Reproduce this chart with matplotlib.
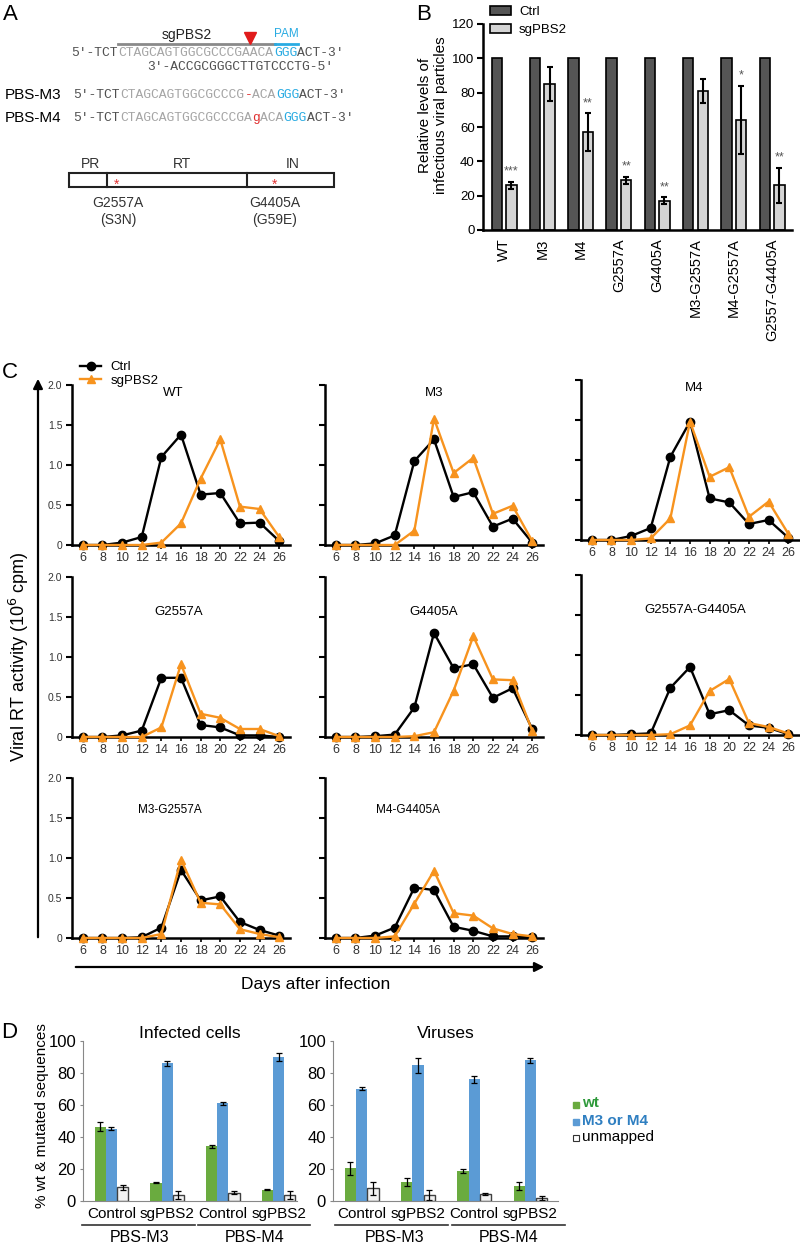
import numpy as np
import matplotlib
matplotlib.use('Agg')
import matplotlib.pyplot as plt
from matplotlib.patches import Rectangle

plt.rcParams['font.family'] = ['Liberation Sans', 'DejaVu Sans']

W, H = 800, 1248

# panel B
b_strains = ['WT', 'M3', 'M4', 'G2557A', 'G4405A', 'M3-G2557A', 'M4-G2557A', 'G2557-G4405A']
b_ctrl = [100, 100, 100, 100, 100, 100, 100, 100]
b_sg = [26, 85, 57, 29, 17, 81, 64, 26]
b_sg_err = [2, 10, 11, 2, 2, 7, 20, 10]
b_stars = ['***', '', '**', '**', '**', '', '*', '**']

# panel C
days = [6, 8, 10, 12, 14, 16, 18, 20, 22, 24, 26]
wt_ctrl = [0, 0, 0.03, 0.1, 1.1, 1.38, 0.63, 0.65, 0.27, 0.28, 0.05]
wt_sg = [0, 0, 0, 0, 0.03, 0.27, 0.83, 1.32, 0.48, 0.45, 0.1]
m3_ctrl = [0, 0, 0.02, 0.12, 1.05, 1.32, 0.6, 0.66, 0.23, 0.33, 0.03]
m3_sg = [0, 0, 0, 0, 0.18, 1.58, 0.9, 1.09, 0.39, 0.49, 0.05]
m4_ctrl = [0, 0, 0.05, 0.15, 1.04, 1.48, 0.52, 0.47, 0.2, 0.25, 0.03]
m4_sg = [0, 0, 0, 0.02, 0.27, 1.48, 0.79, 0.91, 0.29, 0.48, 0.08]
g2557_ctrl = [0, 0, 0.02, 0.08, 0.74, 0.74, 0.15, 0.12, 0.02, 0.02, 0]
g2557_sg = [0, 0, 0, 0, 0.12, 0.91, 0.29, 0.24, 0.1, 0.1, 0.01]
g4405_ctrl = [0, 0, 0.01, 0.03, 0.37, 1.3, 0.86, 0.91, 0.49, 0.61, 0.1]
g4405_sg = [0, 0, 0, 0, 0.01, 0.06, 0.58, 1.26, 0.72, 0.71, 0.08]
dbl_ctrl = [0, 0, 0.01, 0.02, 0.59, 0.85, 0.26, 0.31, 0.12, 0.09, 0.01]
dbl_sg = [0, 0, 0, 0, 0.01, 0.12, 0.55, 0.7, 0.15, 0.1, 0.02]
m3g_ctrl = [0, 0, 0, 0.01, 0.13, 0.85, 0.47, 0.52, 0.2, 0.1, 0.03]
m3g_sg = [0, 0, 0, 0, 0.05, 0.98, 0.44, 0.42, 0.11, 0.05, 0.01]
m4g_ctrl = [0, 0, 0.03, 0.13, 0.63, 0.6, 0.14, 0.09, 0.02, 0.02, 0.01]
m4g_sg = [0, 0, 0, 0.02, 0.43, 0.84, 0.31, 0.28, 0.12, 0.05, 0.02]

# panel D
d_groups = ['Control', 'sgPBS2', 'Control', 'sgPBS2']
cells_wt = [46.5, 11.5, 34.3, 6.9]
cells_wt_err = [2.7, 0.5, 1, 0.3]
cells_mut = [45.2, 86, 61, 89.8]
cells_mut_err = [1, 1.5, 1, 2.5]
cells_unm = [8.5, 3.7, 5.3, 3.7]
cells_unm_err = [1.5, 2.5, 1, 2.5]
vir_wt = [20.5, 12, 19, 9.6]
vir_wt_err = [4, 2.5, 1.3, 2.5]
vir_mut = [70.3, 84.7, 76, 88]
vir_mut_err = [0.7, 4.5, 2, 1.5]
vir_unm = [8, 3.8, 4.4, 1.9]
vir_unm_err = [4, 3, 0.5, 1.5]

ORANGE = '#f7931e'
GREEN = '#6aab3f'
BLUE = '#5b9bd5'

fig = plt.figure(figsize=(8, 12.48), dpi=100)


def box(x0, y0, x1, y1):
    return [x0 / W, 1 - y1 / H, (x1 - x0) / W, (y1 - y0) / H]


ov = fig.add_axes([0, 0, 1, 1])
ov.set_xlim(0, W)
ov.set_ylim(H, 0)
ov.axis('off')

for x, y, s in [(3, 15, 'A'), (416, 15, 'B'), (2, 373, 'C'), (1, 1033, 'D')]:
    ov.text(x, y, s, fontsize=16, va='center', ha='left')

# ---- panel A (schematic)
cw = 7.8
mono = ['Liberation Mono', 'DejaVu Sans Mono']
DK, LG, SB, RD = '#505050', '#a5a5a5', '#29abe2', '#e03030'


def seq(x0, y, parts):
    i = 0
    for s, c in parts:
        ov.text(x0 + i * cw, y, s, color=c, family=mono, fontsize=9.4, va='center')
        i += len(s)


ov.text(187, 35, 'sgPBS2', fontsize=10, ha='center', va='center', color='#222')
ov.plot([118, 275], [44, 44], color='#8a8a8a', lw=2)
ov.plot([275, 298], [44, 44], color=SB, lw=2)
ov.text(286, 34, 'PAM', fontsize=8.5, ha='center', va='center', color=SB)
ov.plot(250, 38, marker='v', color='#e01b1b', ms=8)
seq(71, 53, [("5′-TCT", DK), ("CTAGCAGTGGCGCCCGAACA", LG), ("GGG", SB), ("ACT-3′", DK)])
seq(147, 67, [("3′-ACCGCGGGCTTGTCCCTG-5′", DK)])
ov.text(5, 95, 'PBS-M3', fontsize=11, va='center')
ov.text(5, 118, 'PBS-M4', fontsize=11, va='center')
seq(73, 95, [("5′-TCT", DK), ("CTAGCAGTGGCGCCCG", LG), ("-", RD), ("ACA", LG), ("GGG", SB), ("ACT-3′", DK)])
seq(73, 118, [("5′-TCT", DK), ("CTAGCAGTGGCGCCCGA", LG), ("g", RD), ("ACA", LG), ("GGG", SB), ("ACT-3′", DK)])

ov.add_patch(Rectangle((69, 173), 265, 14, fill=False, lw=1.5, ec='#222'))
ov.plot([107, 107], [173, 187], color='#222', lw=1.5)
ov.plot([247, 247], [173, 187], color='#222', lw=1.5)
for x, s in [(91, 'PR'), (182, 'RT'), (293, 'IN')]:
    ov.text(x, 164, s, fontsize=10, ha='center', va='center', color='#333')
for x in [117, 275]:
    ov.text(x, 185, '*', fontsize=10, ha='center', va='center', color=RD)
ov.text(118, 203, 'G2557A', fontsize=10, ha='center', va='center', color='#333')
ov.text(118, 220, '(S3N)', fontsize=10, ha='center', va='center', color='#333')
ov.text(275, 203, 'G4405A', fontsize=10, ha='center', va='center', color='#333')
ov.text(275, 220, '(G59E)', fontsize=10, ha='center', va='center', color='#333')

# ---- panel B
axb = fig.add_axes(box(483, 24, 792, 230))
xb = np.arange(len(b_strains))
axb.bar(xb - 0.19, b_ctrl, 0.27, color='#555555', edgecolor='black', lw=1.2, label='Ctrl')
axb.bar(xb + 0.19, b_sg, 0.27, yerr=b_sg_err, color='#d4d4d4', edgecolor='black', lw=1.2,
        capsize=2, error_kw=dict(lw=1.5, capthick=1.5), label='sgPBS2')
for i, s in enumerate(b_stars):
    if s:
        axb.text(xb[i] + 0.19, b_sg[i] + b_sg_err[i] + 6, s, ha='center', va='center',
                 fontsize=9, color='#555')
axb.set_xlim(-0.55, 7.52)
axb.set_ylim(0, 120)
axb.set_yticks(range(0, 121, 20))
axb.set_xticks(xb)
axb.set_xticklabels(b_strains, rotation=90, fontsize=10.5)
axb.tick_params(axis='x', length=0, pad=6)
axb.tick_params(axis='y', length=4, width=1.5, labelsize=9.5, pad=2)
for s in ['top', 'right']:
    axb.spines[s].set_visible(False)
for s in ['left', 'bottom']:
    axb.spines[s].set_linewidth(1.8)
axb.legend(loc='upper left', bbox_to_anchor=(490 / W, 1 - 6 / H), bbox_transform=fig.transFigure,
           frameon=False, fontsize=9.5, handlelength=1.6, handleheight=0.7, labelspacing=0.4,
           borderpad=0, borderaxespad=0, handletextpad=0.6)
ov.text(433, 115, 'Relative levels of\ninfectious viral particles', rotation=90, fontsize=11,
        ha='center', va='center', linespacing=1.1)

# ---- panel C
panels = [('WT', wt_ctrl, wt_sg), ('M3', m3_ctrl, m3_sg), ('M4', m4_ctrl, m4_sg),
          ('G2557A', g2557_ctrl, g2557_sg), ('G4405A', g4405_ctrl, g4405_sg),
          ('G2557A-G4405A', dbl_ctrl, dbl_sg),
          ('M3-G2557A', m3g_ctrl, m3g_sg), ('M4-G4405A', m4g_ctrl, m4g_sg)]
col_left = [72, 325, 581]
row_top = [[385, 385, 380], [577, 577, 575], [778, 778]]
title_y = [0.95, 0.78, 0.8]
title_x = [[15.2, 16, 16.4], [15.8, 16, 16.5], [14.9, 13.4]]
k = 0
for r in range(3):
    for c in range(len(row_top[r])):
        name, yc, ys = panels[k]
        k += 1
        top = row_top[r][c]
        ax = fig.add_axes(box(col_left[c], top, col_left[c] + 218, top + 160))
        ax.plot(days, yc, color='black', marker='o', ms=6, lw=1.7, clip_on=False, zorder=3)
        ax.plot(days, ys, color=ORANGE, marker='^', ms=6, lw=1.7, clip_on=False, zorder=4,
                label='sgPBS2' if k == 1 else None)
        ax.set_xlim(4.9, 27.1)
        ax.set_ylim(0, 2.0)
        ax.set_xticks(days)
        ax.set_yticks([0, 0.5, 1.0, 1.5, 2.0])
        if c == 0:
            ax.set_yticklabels(['0', '0.5', '1.0', '1.5', '2.0'])
        else:
            ax.set_yticklabels([])
        ax.tick_params(axis='y', length=4, width=1.5, labelsize=7.5, pad=3, labelcolor='#333')
        ax.tick_params(axis='x', length=3, width=1.2, labelsize=9, pad=2, labelcolor='#333')
        for s in ['top', 'right']:
            ax.spines[s].set_visible(False)
        for s in ['left', 'bottom']:
            ax.spines[s].set_linewidth(1.8)
        fs = 9.5 if r < 2 else 8.5
        ax.text(title_x[r][c], title_y[r] * 2.0, name, fontsize=fs, ha='center', va='center')
        if k == 1:
            ax.lines[0].set_label('Ctrl')
            ax.legend(loc='upper left', bbox_to_anchor=(80 / W, 1 - 361 / H),
                      bbox_transform=fig.transFigure, frameon=False, fontsize=9.5,
                      handlelength=1.6, labelspacing=0.12, borderpad=0, borderaxespad=0,
                      handletextpad=0.7)

ov.annotate('', xy=(38, 376), xytext=(38, 940),
            arrowprops=dict(arrowstyle='-|>', lw=1.6, color='black', mutation_scale=14))
ov.annotate('', xy=(547, 967), xytext=(73, 967),
            arrowprops=dict(arrowstyle='-|>', lw=1.6, color='black', mutation_scale=14))
ov.text(19, 657, 'Viral RT activity (10$^6$ cpm)', rotation=90, fontsize=13,
        ha='center', va='center')
ov.text(316, 984, 'Days after infection', fontsize=12.5, ha='center', va='center')

# ---- panel D
d_sets = [('Infected cells', 83, 297, 3.33,
           (cells_wt, cells_wt_err), (cells_mut, cells_mut_err), (cells_unm, cells_unm_err)),
          ('Viruses', 333, 558, 3.49,
           (vir_wt, vir_wt_err), (vir_mut, vir_mut_err), (vir_unm, vir_unm_err))]
xd = np.arange(len(d_groups))
for title, x0, x1, xmax, wt, mut, unm in d_sets:
    ax = fig.add_axes(box(x0, 1041, x1, 1201))
    ekw = dict(lw=0.9, capthick=0.9)
    ax.bar(xd - 0.2, wt[0], 0.2, yerr=wt[1], color=GREEN, capsize=2, error_kw=ekw)
    ax.bar(xd, mut[0], 0.2, yerr=mut[1], color=BLUE, capsize=2, error_kw=ekw)
    ax.bar(xd + 0.2, unm[0], 0.2, yerr=unm[1], color='#f2f2f2', edgecolor='#404040', lw=1,
           capsize=2, error_kw=ekw)
    ax.set_xlim(-0.51, xmax)
    ax.set_ylim(0, 100)
    ax.set_yticks(range(0, 101, 20))
    ax.set_xticks(xd)
    ax.set_xticklabels(d_groups, fontsize=11)
    ax.tick_params(axis='x', length=0, pad=4)
    ax.tick_params(axis='y', length=2, labelsize=12, pad=3, color='#888')
    for s in ['top', 'right']:
        ax.spines[s].set_visible(False)
    for s in ['left', 'bottom']:
        ax.spines[s].set_color('#888')
    ax.text(0.5, 1.045, title, transform=ax.transAxes, fontsize=12.5, ha='center', va='center')

for xa, xb2, xc, lab in [(82, 195, 140, 'PBS-M3'), (198, 310, 255, 'PBS-M4'),
                         (335, 448, 395, 'PBS-M3'), (452, 565, 509, 'PBS-M4')]:
    ov.plot([xa, xb2], [1225, 1225], color='#333', lw=1.2)
    ov.text(xc, 1237, lab, fontsize=11.5, ha='center', va='center')
ov.text(42, 1116, '% wt & mutated sequences', rotation=90, fontsize=11, ha='center', va='center')

ov.plot(576, 1105, marker='s', ms=4, color=GREEN, ls='none')
ov.plot(576, 1122, marker='s', ms=4, color=BLUE, ls='none')
ov.plot(576, 1138, marker='s', ms=4, mfc='white', mec='#333', mew=0.8, ls='none')
ov.text(582, 1103, 'wt', fontsize=11, fontweight='bold', color='#2e9a3a', va='center')
ov.text(582, 1121, 'M3 or M4', fontsize=11, fontweight='bold', color='#2f7fc1', va='center')
ov.text(582, 1137, 'unmapped', fontsize=11, va='center')

fig.savefig('out.png', dpi=100)
